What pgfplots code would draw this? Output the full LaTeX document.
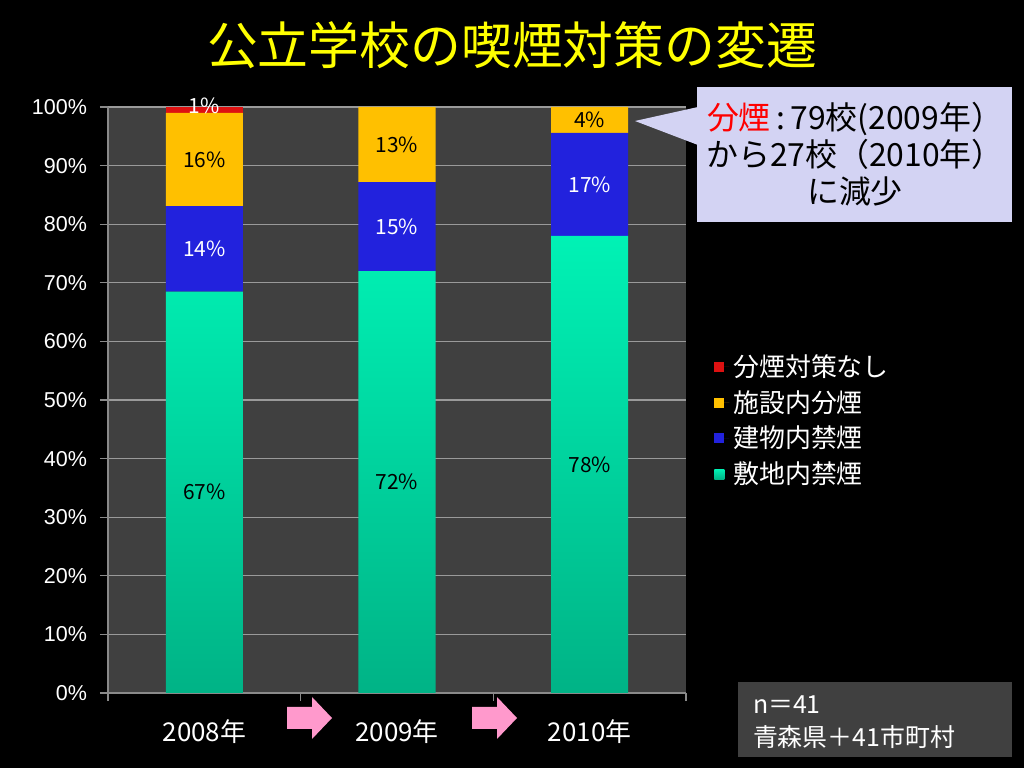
\documentclass[border=0pt]{standalone}
\usepackage{pgfplots}
\pgfplotsset{compat=1.18}
\usepackage{pgfplotstable}
\usepackage{fontspec}
\setmainfont{Noto Sans CJK JP}
\newfontfamily\tickfont{Liberation Sans}

\definecolor{plotbg}{HTML}{404040}
\definecolor{gridgray}{HTML}{9A9A9A}
\definecolor{axisgray}{HTML}{8A8A8A}
\definecolor{barred}{HTML}{DD1111}
\definecolor{baryellow}{HTML}{FFC000}
\definecolor{barblue}{HTML}{2222DD}
\definecolor{greentop}{HTML}{00F2B5}
\definecolor{greenbot}{HTML}{00B386}
\definecolor{calloutbg}{HTML}{D3D3F3}
\definecolor{arrowpink}{HTML}{FF99CC}
\definecolor{titleyellow}{HTML}{FFFF00}

% shares (%) per year, labels as printed on the slide
\pgfplotstableread{
x green glab blue blab yellow ylab red rlab
0 68.5 67\% 14.6 14\% 15.9 16\% 1.0 1\%
1 72.0 72\% 15.2 15\% 12.8 13\% 0.0 {}
2 78.0 78\% 17.6 17\% 4.4 4\% 0.0 {}
}\smoking

\begin{document}
\begin{tikzpicture}
\fill[black] (0,0) rectangle (512bp,384bp);
\useasboundingbox (0,0) rectangle (512bp,384bp);

\node[text=titleyellow, font=\fontsize{25.5}{30}\selectfont] at (256bp,361.5bp) {公立学校の喫煙対策の変遷};

\begin{axis}[
  at={(54bp,37.5bp)}, anchor=south west,
  scale only axis, width=289bp, height=293bp,
  ybar stacked, bar width=38.5bp,
  xmin=-0.5, xmax=2.5, ymin=0, ymax=100,
  xtick={0,1,2}, xticklabels={2008年,2009年,2010年},
  minor xtick={-0.5,0.5,1.5,2.5},
  ytick={0,10,...,100},
  yticklabel={\pgfmathprintnumber{\tick}\%},
  /pgf/number format/assume math mode=true,
  axis x line*=bottom, axis y line*=left,
  axis line style={axisgray, line width=0.8bp, -},
  tick align=outside, major tick length=4bp, minor tick length=4bp,
  major x tick style={draw=none},
  minor x tick style={axisgray, line width=0.6bp},
  y tick style={axisgray, line width=0.6bp},
  ymajorgrids, grid style={gridgray, line width=0.6bp},
  axis background/.style={fill=plotbg},
  yticklabel style={text=white, font=\tickfont\fontsize{10.8}{12}\selectfont, xshift=-3bp},
  xticklabel style={text=white, font=\fontsize{13}{15}\selectfont, yshift=-6bp},
  legend style={at={(1.038,0.592)}, anchor=north west, draw=none, fill=none,
    text=white, font=\fontsize{13}{15}\selectfont, row sep=1.5bp, cells={anchor=west}},
  reverse legend,
  sq/.style={legend image code/.code={\fill[##1] (0bp,-2.5bp) rectangle (5bp,2.5bp); \path (0bp,0bp) -- (7.5bp,0bp);}},
  lab/.style={point meta=explicit symbolic, nodes near coords, nodes near coords align={center},
    every node near coord/.append style={anchor=center, font=\fontsize{10.5}{12}\selectfont}},
]
\addplot[top color=greentop, bottom color=greenbot, draw=none, sq, lab,
  every node near coord/.append style={text=black}]
  table[x=x, y=green, meta=glab] {\smoking};
\addlegendentry{敷地内禁煙}
\addplot[fill=barblue, draw=none, sq, lab,
  every node near coord/.append style={text=white}]
  table[x=x, y=blue, meta=blab] {\smoking};
\addlegendentry{建物内禁煙}
\addplot[fill=baryellow, draw=none, sq, lab,
  every node near coord/.append style={text=black}]
  table[x=x, y=yellow, meta=ylab] {\smoking};
\addlegendentry{施設内分煙}
\addplot[fill=barred, draw=none, sq, lab,
  every node near coord/.append style={text=white, yshift=2bp}]
  table[x=x, y=red, meta=rlab] {\smoking};
\addlegendentry{分煙対策なし}
\end{axis}

% callout
\fill[calloutbg] (348.5bp,273bp) rectangle (506bp,340.5bp);
\fill[calloutbg] (349bp,330.5bp) -- (317.5bp,323.5bp) -- (349bp,311.5bp) -- cycle;
\node[align=center, text=black, font=\fontsize{16}{18.5}\selectfont] at (427.5bp,306.75bp)
  {\textcolor{red}{分煙}\,:\,79校(2009年）\\から27校（2010年）\\に減少};

% sample note
\fill[plotbg] (369bp,5.5bp) rectangle (506bp,43bp);
\node[anchor=west, align=left, text=white, font=\fontsize{12.5}{16.5}\selectfont] at (373bp,22.75bp)
  {n＝41\\青森県＋41市町村};

% arrows between years
\foreach \dx in {0bp,92.5bp}{
  \fill[arrowpink, xshift=\dx] (143.5bp,19.5bp) -- (156bp,19.5bp) -- (156bp,14.5bp) -- (166bp,25bp)
    -- (156bp,35.5bp) -- (156bp,30.5bp) -- (143.5bp,30.5bp) -- cycle;
}
\end{tikzpicture}
\end{document}
